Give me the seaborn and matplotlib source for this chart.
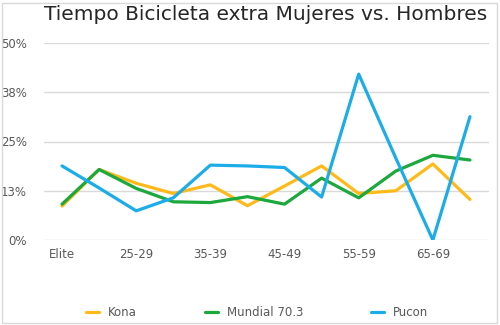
import matplotlib
matplotlib.use("Agg")
import matplotlib.pyplot as plt
import seaborn as sns
import pandas as pd
from matplotlib.patches import Rectangle

categories = ["Elite", "18-24", "25-29", "30-34", "35-39", "40-44",
              "45-49", "50-54", "55-59", "60-64", "65-69", "70-74"]
kona = [8.6, 17.9, 14.4, 11.8, 14.0, 8.7, 13.7, 18.8, 11.8, 12.5, 19.3, 10.3]
mundial = [9.1, 17.9, 13.1, 9.7, 9.5, 11.0, 9.1, 15.7, 10.7, 17.5, 21.5, 20.3]
pucon = [18.8, 13.2, 7.4, 10.7, 19.0, 18.8, 18.4, 10.9, 42.1, 20.8, 0.0, 31.3]
series_names = ["Kona", "Mundial 70.3", "Pucon"]
yticks = [0, 12.5, 25, 37.5, 50]
ytick_labels = ["0%", "13%", "25%", "38%", "50%"]

rows = []
for name, vals in zip(series_names, [kona, mundial, pucon]):
    for i, (c, v) in enumerate(zip(categories, vals)):
        rows.append({"idx": i, "cat": c, "serie": name, "val": v / 100.0})
df = pd.DataFrame(rows)

sns.set_theme(style="white")
plt.rcParams["font.family"] = ["DejaVu Sans"]

fig = plt.figure(figsize=(5, 3.25), dpi=100)
ax = fig.add_axes([43.5 / 500, 1 - 240 / 325, (488.5 - 43.5) / 500, (240 - 43) / 325])

palette = {"Kona": "#FFBA1A", "Mundial 70.3": "#1CA83C", "Pucon": "#1CADE8"}
sns.lineplot(data=df, x="idx", y="val", hue="serie", palette=palette,
             linewidth=2.3, ax=ax, legend=True, sort=False)

ax.set_xlim(-0.5, len(categories) - 0.5)
ax.set_ylim(0, 0.5)
ax.set_yticks([t / 100 for t in yticks])
ax.set_yticklabels(ytick_labels)
ax.set_xticks(range(0, len(categories), 2))
ax.set_xticklabels(categories[::2])
ax.set_xlabel("")
ax.set_ylabel("")
ax.grid(axis="y", color="#D9D9D9", linewidth=1)
ax.set_axisbelow(True)
for s in ax.spines.values():
    s.set_visible(False)
ax.tick_params(axis="both", length=0, labelsize=8.5, colors="#595959")
ax.tick_params(axis="y", pad=12)
ax.tick_params(axis="x", pad=6)

fig.text(0.532, 1 - 15 / 325, "Tiempo Bicicleta extra Mujeres vs. Hombres",
         ha="center", va="center", fontsize=14.5, color="#262626")

leg = ax.legend(loc="center", bbox_to_anchor=(0.48, (240 - 313) / 197), ncol=3,
                frameon=False, fontsize=8.5, handlelength=1.1, columnspacing=5.8,
                handletextpad=0.75)
for t in leg.get_texts():
    t.set_color("#595959")

fig.patches.append(Rectangle((2 / 500, 2 / 325), 495 / 500, 320 / 325,
                             transform=fig.transFigure, fill=False,
                             edgecolor="#D9D9D9", linewidth=1))

fig.savefig("out.png", dpi=100)
